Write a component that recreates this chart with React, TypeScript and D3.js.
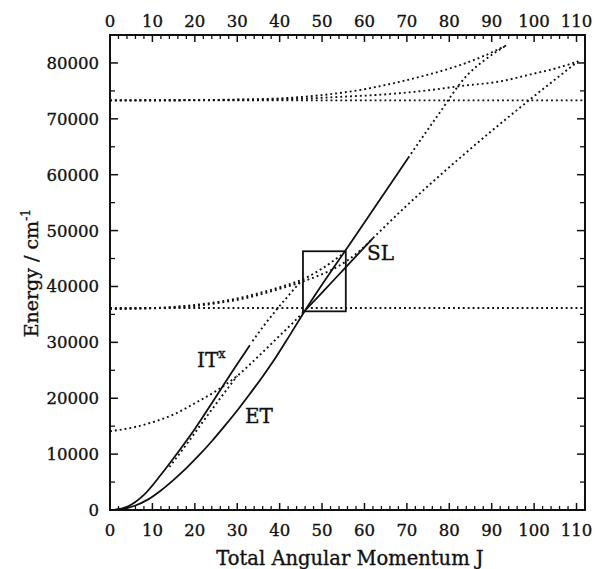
import React from "react";
import * as d3 from "d3";

// Energy curves E(J) (J, cm^-1)
const etSolid: [number, number][] = [[1,0],[3,150],[6,800],[9,1900],[12,3500],[15,5400],[18,7500],[21,9800],[24,12300],[27,15000],[30,17800],[33,20800],[36,23900],[39,27200],[42,30800],[46,35700],[58,49200],[70.3,63000]];
const etDotted: [number, number][] = [[70.3,63000],[77,70300],[84.2,77800],[89,80900],[93.6,83200]];
const itSolid: [number, number][] = [[1,0],[4,550],[8,2700],[12,6300],[16,10300],[20,14500],[24,19100],[28,23800],[33,29500]];
const itDotted: [number, number][] = [[33.6,30200],[36,32700],[39,35600],[42,38300],[45,40900]];
const dCurve: [number, number][] = [[0,14100],[5,14700],[10,15700],[15,17100],[20,19100],[25,21300],[30,24000],[35,27500],[40,31200],[43,33400],[46,35700]];
const gCurve: [number, number][] = [[14,7700],[18,11700],[22,15900],[26,20000],[30,24000]];
const cUpper: [number, number][] = [[0,36000],[8,36100],[14,36300],[20,36700],[26,37300],[32,38200],[37,39200],[41,40100],[45.5,41300],[50,43200],[55,45900]];
const cLower: [number, number][] = [[0,36000],[8,36050],[14,36200],[20,36500],[26,37100],[32,37900],[37,38900],[41,39800],[45.5,40900],[50,42200],[54,43700],[58,45800],[62,48600]];
const slSolid: [number, number][] = [[46,35700],[50,38900],[55.4,43300],[62,48650]];
const slDotted: [number, number][] = [[62,48650],[70,54500],[82.5,63000],[96,71600],[110.4,80300]];
const topUpper: [number, number][] = [[0,73300],[20,73350],[30,73450],[40,73650],[50,74250],[60,75300],[67,76400],[75,77900],[82.5,79600],[88,81200],[93.6,83200]];
const topLower: [number, number][] = [[0,73300],[30,73400],[45,73600],[55,73950],[67,74500],[75,75100],[82.5,75850],[92,76700],[100,78100],[105,79000],[110.4,80300]];
const flatLow: [number, number][] = [[0,36150],[112,36150]];
const flatHigh: [number, number][] = [[0,73300],[112,73300]];
const boxJ = [45.5, 55.6];
const boxE = [35550, 46300];

const xMajor = [0,10,20,30,40,50,60,70,80,90,100,110];
const yMajor = [0,10000,20000,30000,40000,50000,60000,70000,80000];

const solidSeries = [etSolid, itSolid, slSolid];
const dottedSeries = [etDotted, itDotted, dCurve, gCurve, cUpper, cLower, slDotted, topUpper, topLower, flatLow, flatHigh];

export default function App() {
  const L = 110, R = 585, T = 35, B = 510;
  const x = d3.scaleLinear().domain([0, 112]).range([L, R]);
  const y = d3.scaleLinear().domain([0, 85000]).range([B, T]);
  const line = d3.line<[number, number]>().x(d => x(d[0])).y(d => y(d[1])).curve(d3.curveMonotoneX);
  const xMinor = d3.range(0, 113, 2).filter(v => v % 10 !== 0);
  const yMinor = d3.range(5000, 85000, 10000);
  const font = "DejaVu Serif";
  const ink = "#111";
  const txt = { fill: ink, stroke: ink, strokeWidth: 0.35 };
  return (
    <svg width={598} height={569} style={{ display: "block", position: "absolute", left: 0, top: 0 }} fontFamily={font}>
      <rect x={0} y={0} width={598} height={569} fill="white" />
      {dottedSeries.map((s, i) => (
        <path key={"d" + i} d={line(s) || ""} fill="none" stroke={ink} strokeWidth={1.9} strokeDasharray="1.9 3" />
      ))}
      {solidSeries.map((s, i) => (
        <path key={"s" + i} d={line(s) || ""} fill="none" stroke={ink} strokeWidth={1.8} />
      ))}
      <rect x={x(boxJ[0])} y={y(boxE[1])} width={x(boxJ[1]) - x(boxJ[0])} height={y(boxE[0]) - y(boxE[1])} fill="none" stroke={ink} strokeWidth={1.8} />
      <rect x={L} y={T} width={R - L} height={B - T} fill="none" stroke={ink} strokeWidth={2} />
      {xMajor.map(v => (
        <g key={"xm" + v}>
          <line x1={x(v)} x2={x(v)} y1={B} y2={B - 7} stroke={ink} strokeWidth={1.5} />
          <line x1={x(v)} x2={x(v)} y1={T} y2={T + 7} stroke={ink} strokeWidth={1.5} />
          <text x={x(v)} y={536} fontSize={16.5} textAnchor="middle" {...txt}>{v}</text>
          <text x={x(v)} y={27} fontSize={16.5} textAnchor="middle" {...txt}>{v}</text>
        </g>
      ))}
      {xMinor.map(v => (
        <g key={"xn" + v}>
          <line x1={x(v)} x2={x(v)} y1={B} y2={B - 4} stroke={ink} strokeWidth={1.3} />
          <line x1={x(v)} x2={x(v)} y1={T} y2={T + 4} stroke={ink} strokeWidth={1.3} />
        </g>
      ))}
      {yMajor.map(v => (
        <g key={"ym" + v}>
          <line x1={L} x2={L + 8} y1={y(v)} y2={y(v)} stroke={ink} strokeWidth={1.5} />
          <line x1={R} x2={R - 8} y1={y(v)} y2={y(v)} stroke={ink} strokeWidth={1.5} />
          <text x={99} y={y(v) + 6} fontSize={16.5} textAnchor="end" {...txt}>{v}</text>
        </g>
      ))}
      {yMinor.map(v => (
        <g key={"yn" + v}>
          <line x1={L} x2={L + 5} y1={y(v)} y2={y(v)} stroke={ink} strokeWidth={1.3} />
          <line x1={R} x2={R - 5} y1={y(v)} y2={y(v)} stroke={ink} strokeWidth={1.3} />
        </g>
      ))}
      <text x={350} y={565} fontSize={19.5} textAnchor="middle" {...txt}>Total Angular Momentum J</text>
      <text transform="translate(38,273) rotate(-90)" fontSize={19} textAnchor="middle" {...txt}>
        Energy / cm<tspan fontSize={12.5} dy={-8}>-1</tspan>
      </text>
      <text x={197} y={367} fontSize={20} {...txt}>IT<tspan fontSize={13} dy={-9}>x</tspan></text>
      <text x={245} y={423} fontSize={20} {...txt}>ET</text>
      <text x={367} y={260} fontSize={20} {...txt}>SL</text>
    </svg>
  );
}
